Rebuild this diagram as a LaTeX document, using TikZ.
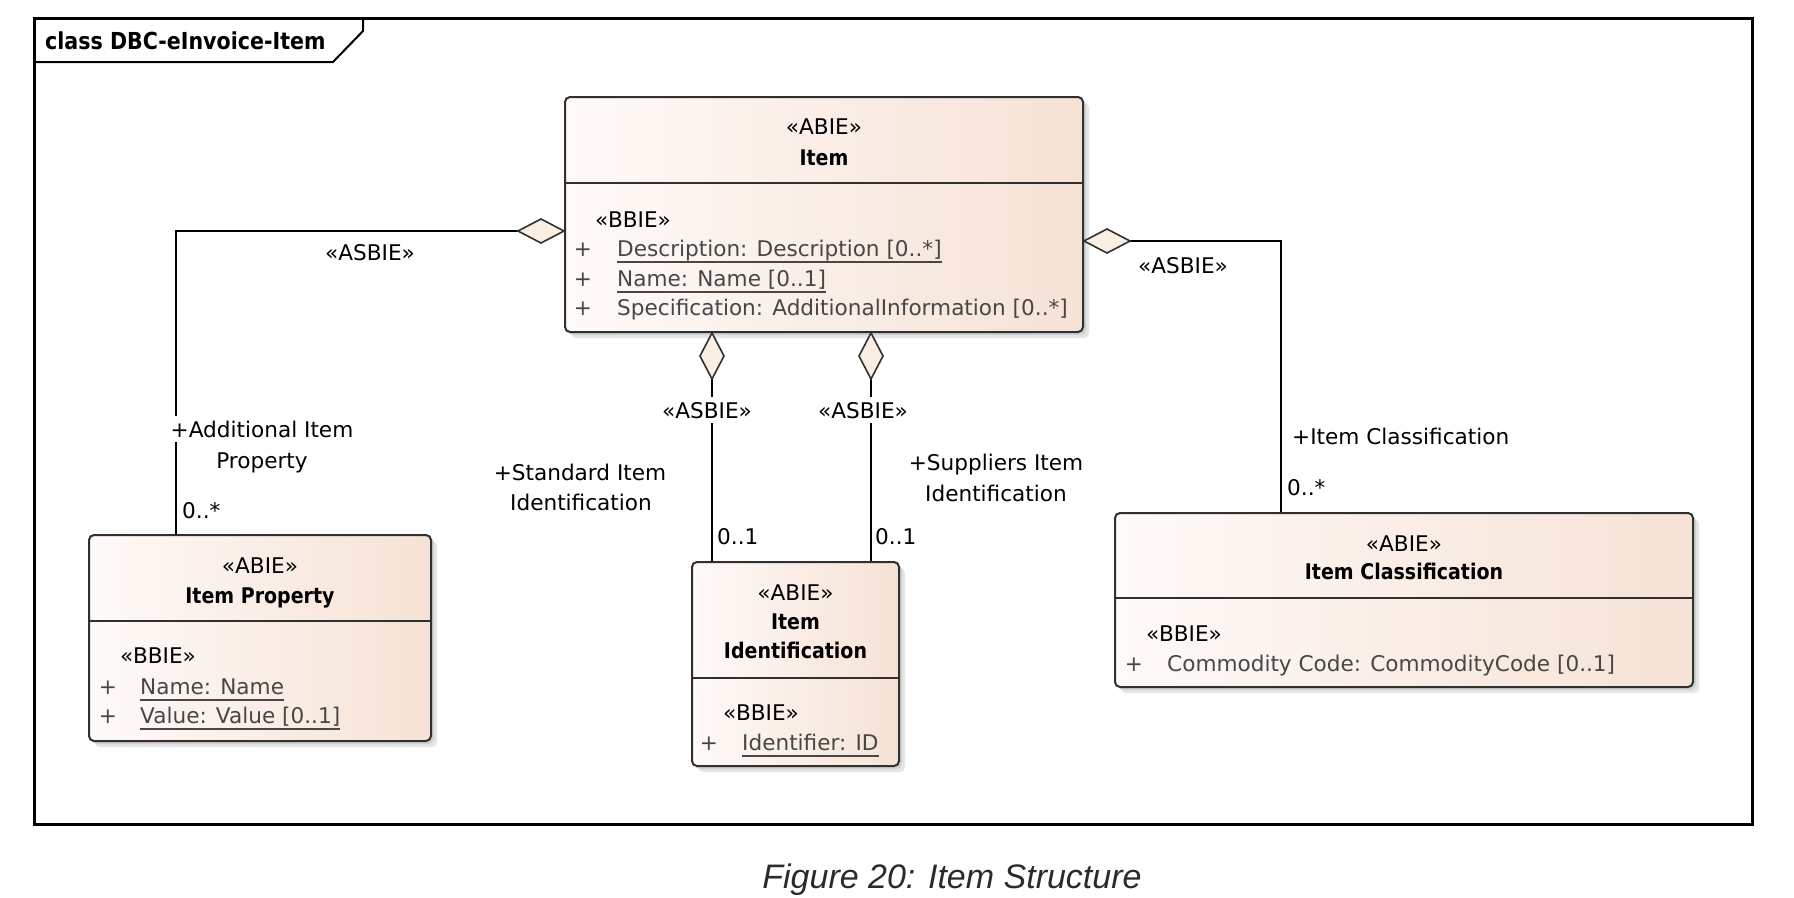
\documentclass[tikz,border=0pt]{standalone}
\usepackage{fontspec}
\setmainfont{DejaVu Sans}[BoldFeatures={FakeStretch=0.88}]
\newfontfamily\capfont{Liberation Sans}
\usetikzlibrary{calc}
\definecolor{boxL}{HTML}{FEFAF8}
\definecolor{boxR}{HTML}{F6E2D5}
\definecolor{boxD}{HTML}{303030}
\definecolor{attrc}{HTML}{474747}
\definecolor{diaf}{HTML}{FBEEE2}
\definecolor{capc}{HTML}{2B2B2B}
\tikzset{
  clsbox/.style={rectangle, rounded corners=5pt, draw=boxD, line width=2pt, left color=boxL, right color=boxR, inner sep=0pt},
  divline/.style={draw=boxD, line width=2pt},
  txt/.style={inner sep=0pt, font=\fontsize{21.6pt}{30pt}\selectfont, anchor=base},
  bld/.style={txt, font=\fontsize{21.6pt}{30pt}\selectfont\bfseries},
  attr/.style={txt, text=attrc, anchor=base west},
  plus/.style={txt, text=attrc},
  lbl/.style={txt},
  lblw/.style={txt, fill=white, inner ysep=5pt},
  ulline/.style={draw=attrc, line width=1.5pt},
  conn/.style={draw=black, line width=2pt},
  diam/.style={draw=boxD, fill=diaf, line width=1.6pt, line join=miter},
}
\newcommand\umlbox[6]{%
  \fill[black!10, rounded corners=5pt] (#2+6,#3+6) rectangle (#4+6,#5+6);
  \fill[black!18, rounded corners=5pt] (#2+3,#3+3) rectangle (#4+3,#5+3);
  \node[clsbox, minimum width=#4-#2, minimum height=#5-#3] (#1) at ({(#2+#4)/2},{(#3+#5)/2}) {};
  \draw[divline] (#1.west |- 0,#6) -- (#1.east |- 0,#6);
}
\newcommand\ulnode[1]{\draw[ulline] ($(#1.base west)+(0,6)$) -- ($(#1.base east)+(0,6)$);}
\begin{document}
\begin{tikzpicture}[x=1pt,y=-1pt]
\useasboundingbox (0,0) rectangle (1794,897);
\fill[white] (0,0) rectangle (1794,897);
% frame
\draw[line width=3pt] (34,18) rectangle (1752,824);
\draw[line width=2pt] (34,62) -- (333,62) -- (363,31) -- (363,18);
\node[txt, anchor=base west, font=\fontsize{23.4pt}{28pt}\selectfont\bfseries] (title) at (45,49) {class DBC-eInvoice-Item};

% boxes
\umlbox{item}{565}{97}{1083}{332}{183}
\umlbox{prop}{89}{535}{431}{741}{621}
\umlbox{ident}{692}{562}{899}{766}{678}
\umlbox{cls}{1115}{513}{1693}{687}{598}

% Item
\node[txt] (itemst) at (824,134) {«ABIE»};
\node[bld] (itemnm) at (824,165) {Item};
\node[txt, anchor=base west] (itembb) at (595,227) {«BBIE»};
\node[plus] (itemp1) at (583,256) {+};
\node[attr] (itema1) at (617,256) {Description: Description [0..*]};
\node[plus] (itemp2) at (583,286) {+};
\node[attr] (itema2) at (617,286) {Name: Name [0..1]};
\node[plus] (itemp3) at (583,315) {+};
\node[attr] (itema3) at (617,315) {Specification: AdditionalInformation [0..*]};
\ulnode{itema1}
\ulnode{itema2}

% Item Property
\node[txt] (propst) at (260,573) {«ABIE»};
\node[bld] (propnm) at (260,603) {Item Property};
\node[txt, anchor=base west] (propbb) at (120,663) {«BBIE»};
\node[plus] (propp1) at (108,694) {+};
\node[attr] (propa1) at (140,694) {Name: Name};
\node[plus] (propp2) at (108,723) {+};
\node[attr] (propa2) at (140,723) {Value: Value [0..1]};
\ulnode{propa1}
\ulnode{propa2}

% Item Identification
\node[txt] (identst) at (795.5,600) {«ABIE»};
\node[bld] (identn1) at (795.5,629) {Item};
\node[bld] (identn2) at (795.5,658) {Identification};
\node[txt, anchor=base west] (identbb) at (723,720) {«BBIE»};
\node[plus] (identp1) at (709,750) {+};
\node[attr] (identa1) at (742,750) {Identifier: ID};
\ulnode{identa1}

% Item Classification
\node[txt] (clsst) at (1404,551) {«ABIE»};
\node[bld] (clsnm) at (1404,579) {Item Classification};
\node[txt, anchor=base west] (clsbb) at (1146,641) {«BBIE»};
\node[plus] (clsp1) at (1134,671) {+};
\node[attr] (clsa1) at (1167,671) {Commodity Code: CommodityCode [0..1]};

% connectors
\coordinate (jL) at (item.west |- 0,231);
\coordinate (jLt) at ($(jL)+(-46,0)$);
\coordinate (jR) at (item.east |- 0,241);
\coordinate (jRt) at ($(jR)+(46,0)$);
\coordinate (jS) at (item.south -| 712,0);
\coordinate (jSt) at ($(jS)+(0,46)$);
\coordinate (jU) at (item.south -| 871,0);
\coordinate (jUt) at ($(jU)+(0,46)$);

\draw[conn] (jLt) -| (prop.north -| 176,0);
\draw[conn] (jRt) -| (cls.north -| 1281,0);
\draw[conn] (jSt) -- (ident.north -| 712,0);
\draw[conn] (jUt) -- (ident.north -| 871,0);

\draw[diam] (jL) -- ++(-23,-12) -- (jLt) -- ++(23,12) -- cycle;
\draw[diam] (jR) -- ++(23,-12) -- (jRt) -- ++(-23,12) -- cycle;
\draw[diam] (jS) -- ++(-12,23) -- (jSt) -- ++(12,-23) -- cycle;
\draw[diam] (jU) -- ++(-12,23) -- (jUt) -- ++(12,-23) -- cycle;

% connector labels
\node[lbl] (asL) at (370,260) {«ASBIE»};
\node[lblw, inner xsep=0pt] (roleL1) at (262,437) {+Additional Item};
\node[lbl] (roleL2) at (262,468) {Property};
\node[lbl, anchor=base west] (mulL) at (182,518) {0..*};

\node[lbl] (asR) at (1183,273) {«ASBIE»};
\node[lbl, anchor=base west] (roleR) at (1292,444) {+Item Classification};
\node[lbl, anchor=base west] (mulR) at (1287,495) {0..*};

\node[lblw, inner xsep=2pt] (asS) at (707,418) {«ASBIE»};
\node[lbl] (roleS1) at (580,480) {+Standard Item};
\node[lbl] (roleS2) at (581,510) {Identification};
\node[lbl, anchor=base west] (mulS) at (717,544) {0..1};

\node[lblw, inner xsep=2pt] (asU) at (863,418) {«ASBIE»};
\node[lbl] (roleU1) at (996,470) {+Suppliers Item};
\node[lbl] (roleU2) at (996,501) {Identification};
\node[lbl, anchor=base west] (mulU) at (875,544) {0..1};

% caption
\node[inner sep=0pt, anchor=base, text=capc, font=\capfont\itshape\fontsize{34pt}{40pt}\selectfont] (caption) at (952,888) {Figure 20: Item Structure};
\end{tikzpicture}
\end{document}
